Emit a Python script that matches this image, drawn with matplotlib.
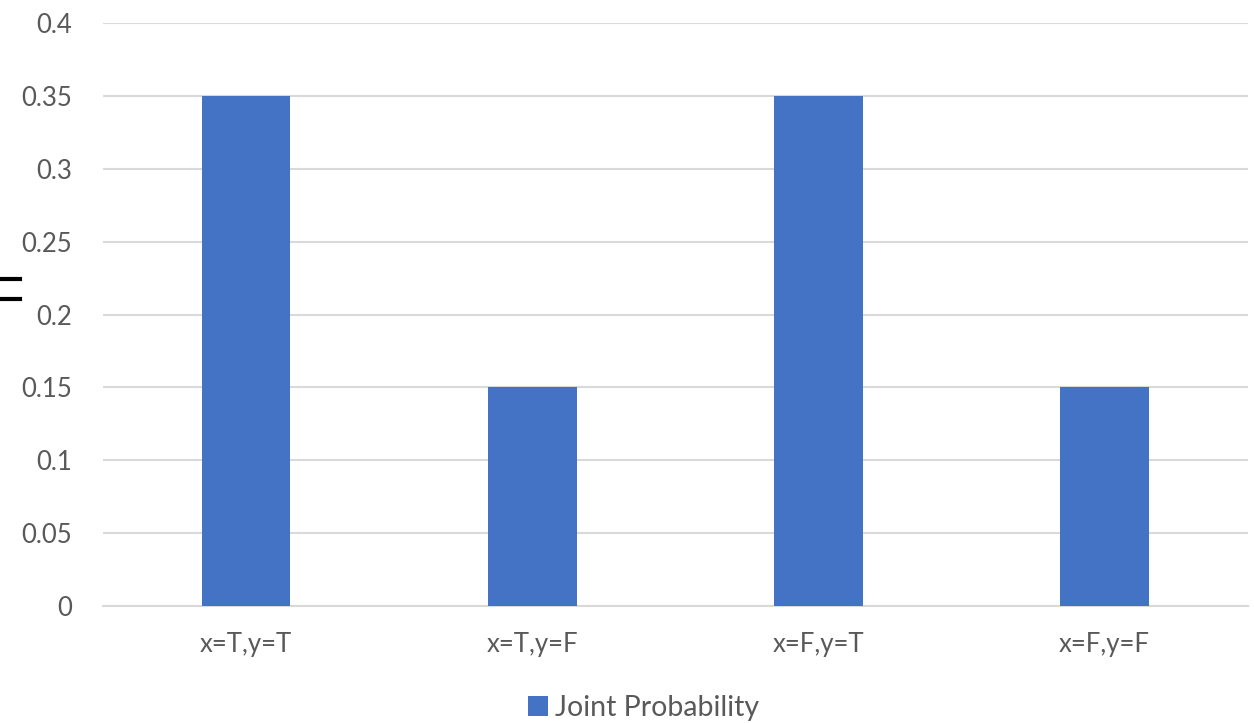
import matplotlib
matplotlib.use("Agg")
import matplotlib.pyplot as plt
from matplotlib.lines import Line2D
from matplotlib.patches import Patch

# ── data ──────────────────────────────────────────────────────────────────────
categories = ["x=T,y=T", "x=T,y=F", "x=F,y=T", "x=F,y=F"]
joint_prob = [0.35, 0.15, 0.35, 0.15]
yticks = [0, 0.05, 0.1, 0.15, 0.2, 0.25, 0.3, 0.35, 0.4]
ytick_labels = ["0", "0.05", "0.1", "0.15", "0.2", "0.25", "0.3", "0.35", "0.4"]

BAR_COLOR = "#4472C4"
TEXT_COLOR = "#595959"
GRID_COLOR = "#D9D9D9"

plt.rcParams["font.family"] = ["Lato", "DejaVu Sans"]

fig = plt.figure(figsize=(12.54, 7.23), dpi=100)
ax = fig.add_axes([0.0821, 0.1618, 0.9129, 0.8062])

x = list(range(len(categories)))
ax.bar(x, joint_prob, width=0.31, color=BAR_COLOR, zorder=3)

ax.set_xlim(-0.5, len(categories) - 0.5)
ax.set_ylim(0, 0.4)
ax.set_yticks(yticks)
ax.set_yticklabels(ytick_labels)
ax.set_xticks(x)
ax.set_xticklabels(categories)

ax.grid(axis="y", color=GRID_COLOR, linewidth=1.5, zorder=0)
for s in ["top", "right", "left"]:
    ax.spines[s].set_visible(False)
ax.spines["bottom"].set_color(GRID_COLOR)
ax.spines["bottom"].set_linewidth(1.5)
ax.tick_params(axis="both", length=0, labelsize=18.5, labelcolor=TEXT_COLOR)
ax.tick_params(axis="y", pad=22)
ax.tick_params(axis="x", pad=19)

# legend at the bottom
handles = [Patch(facecolor=BAR_COLOR, label="Joint Probability")]
fig.legend(handles=handles, loc="lower center", bbox_to_anchor=(0.513, -0.033),
           frameon=False, fontsize=20.5, labelcolor=TEXT_COLOR,
           handlelength=0.7, handleheight=0.7, handletextpad=0.25)

# stray "=" mark at the left edge
fig.add_artist(Line2D([0, 0.016], [0.614, 0.614], color="black", linewidth=3))
fig.add_artist(Line2D([0, 0.016], [0.587, 0.587], color="black", linewidth=3))

fig.savefig("out.png", dpi=100)
